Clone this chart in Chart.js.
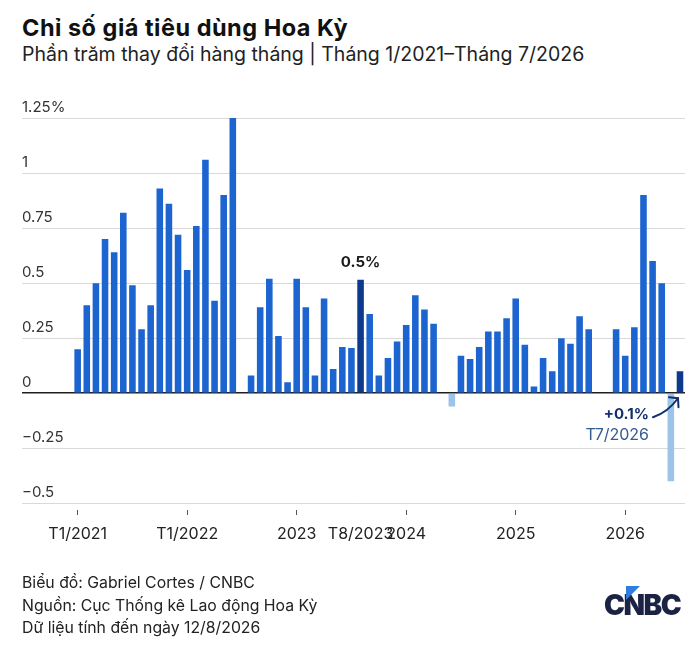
<!DOCTYPE html>
<html lang="vi">
<head>
<meta charset="utf-8">
<title>Chỉ số giá tiêu dùng Hoa Kỳ</title>
<script src="https://cdn.jsdelivr.net/npm/chart.js@4.4.1/dist/chart.umd.min.js"></script>
<style>
  html, body { margin: 0; padding: 0; background: #fff; }
  body { width: 700px; height: 656px; position: relative; overflow: hidden; font-family: Inter, "Noto Sans", sans-serif; color: #1a1a1a; }
  #chart { position: absolute; left: 0; top: 0; }
  .title { position: absolute; left: 22px; top: 14px; font-size: 23.5px; line-height: 1.21; font-weight: 700; color: #111; letter-spacing: 0.5px; }
  .subtitle { position: absolute; left: 22px; top: 43px; font-size: 19.5px; line-height: 1.21; color: #222; }
  .footer { position: absolute; left: 22px; top: 572px; font-size: 15.8px; line-height: 22.5px; color: #222; }
  .logo { position: absolute; left: 604px; top: 588px; font-size: 28px; font-weight: 900; color: #1b2344; letter-spacing: -1.5px; }
  .logo span { position: relative; }
  .logo .tri { position: absolute; left: 22px; top: -2px; width: 0; height: 0; border-left: 14px solid #2f7de1; border-bottom: 14px solid transparent; }
</style>
</head>
<body>
<div class="title">Chỉ số giá tiêu dùng Hoa Kỳ</div>
<div class="subtitle">Phần trăm thay đổi hàng tháng | Tháng 1/2021–Tháng 7/2026</div>
<canvas id="chart" width="700" height="656"></canvas>
<div class="footer">
  Biểu đồ: Gabriel Cortes / CNBC<br>
  Nguồn: Cục Thống kê Lao động Hoa Kỳ<br>
  Dữ liệu tính đến ngày 12/8/2026
</div>
<div class="logo"><span class="tri"></span>CNBC</div>

<script>
// === dữ liệu: CPI thay đổi theo tháng (%) ===
const months = [
  'T1/2021', 'T2/2021', 'T3/2021', 'T4/2021', 'T5/2021', 'T6/2021', 'T7/2021', 'T8/2021', 'T9/2021', 'T10/2021', 'T11/2021', 'T12/2021',
  'T1/2022', 'T2/2022', 'T3/2022', 'T4/2022', 'T5/2022', 'T6/2022', 'T7/2022', 'T8/2022', 'T9/2022', 'T10/2022', 'T11/2022', 'T12/2022',
  'T1/2023', 'T2/2023', 'T3/2023', 'T4/2023', 'T5/2023', 'T6/2023', 'T7/2023', 'T8/2023', 'T9/2023', 'T10/2023', 'T11/2023', 'T12/2023',
  'T1/2024', 'T2/2024', 'T3/2024', 'T4/2024', 'T5/2024', 'T6/2024', 'T7/2024', 'T8/2024', 'T9/2024', 'T10/2024', 'T11/2024', 'T12/2024',
  'T1/2025', 'T2/2025', 'T3/2025', 'T4/2025', 'T5/2025', 'T6/2025', 'T7/2025', 'T8/2025', 'T9/2025', 'T10/2025', 'T11/2025', 'T12/2025',
  'T1/2026', 'T2/2026', 'T3/2026', 'T4/2026', 'T5/2026', 'T6/2026', 'T7/2026',
];

const cpiChange = [
  0.20, 0.40, 0.50, 0.70, 0.64, 0.82, 0.49, 0.29, 0.40, 0.93, 0.86, 0.72,
  0.56, 0.76, 1.06, 0.42, 0.90, 1.25, 0.00, 0.08, 0.39, 0.52, 0.26, 0.05,
  0.52, 0.39, 0.08, 0.43, 0.11, 0.21, 0.205, 0.515, 0.36, 0.08, 0.16, 0.235,
  0.31, 0.445, 0.38, 0.315, 0.00, -0.06, 0.17, 0.155, 0.21, 0.28, 0.28, 0.34,
  0.43, 0.22, 0.03, 0.16, 0.10, 0.25, 0.225, 0.35, 0.29, null, null, 0.29,
  0.17, 0.30, 0.90, 0.60, 0.50, -0.40, 0.10,
];

// tháng được tô đậm
const highlighted = ['T8/2023', 'T7/2026'];

// nhãn trục
const xTickMonths = ['T1/2021', 'T1/2022', 'T1/2023', 'T8/2023', 'T1/2024', 'T1/2025', 'T1/2026'];
const xTickLabels = ['T1/2021', 'T1/2022', '2023', 'T8/2023', '2024', '2025', '2026'];
const yTickValues = [-0.5, -0.25, 0, 0.25, 0.5, 0.75, 1, 1.25];
const yTickLabels = ['−0.5', '−0.25', '0', '0.25', '0.5', '0.75', '1', '1.25%'];

const BLUE = '#1c64d0';
const NAVY = '#0e3a8e';
const LIGHT = '#9cc4e9';
const FONT = 'Inter, "Noto Sans", sans-serif';

const xTickIdx = xTickMonths.map(m => months.indexOf(m));

// chú thích: nhãn 0.5% và +0.1% / mũi tên
const notesPlugin = {
  id: 'notes',
  afterDatasetsDraw(chart) {
    const { ctx, scales: { x, y } } = chart;
    ctx.save();

    const iAug = months.indexOf(highlighted[0]);
    ctx.font = '700 15px ' + FONT;
    ctx.fillStyle = '#1a1a1a';
    ctx.textAlign = 'center';
    ctx.textBaseline = 'middle';
    ctx.fillText('0.5%', x.getPixelForValue(iAug), y.getPixelForValue(cpiChange[iAug]) - 17);

    const iLast = months.indexOf(highlighted[1]);
    const px = x.getPixelForValue(iLast);
    const py = y.getPixelForValue(0);
    ctx.textAlign = 'right';
    ctx.font = '700 15px ' + FONT;
    ctx.fillStyle = '#12306e';
    ctx.fillText('+0.1%', px - 31, py + 21);
    ctx.font = '400 16px ' + FONT;
    ctx.fillStyle = '#355a94';
    ctx.fillText('T7/2026', px - 31, py + 42);

    // mũi tên cong
    const sx = px - 27, sy = py + 24;
    const ex = px - 2, ey = py + 5;
    ctx.strokeStyle = '#12306e';
    ctx.lineWidth = 2;
    ctx.lineCap = 'round';
    ctx.beginPath();
    ctx.moveTo(sx, sy);
    ctx.quadraticCurveTo(px - 12, py + 19, ex, ey);
    ctx.stroke();
    ctx.beginPath();
    ctx.moveTo(ex - 9, ey - 1);
    ctx.lineTo(ex, ey);
    ctx.lineTo(ex + 0.5, ey + 9);
    ctx.stroke();

    ctx.restore();
  },
};

new Chart(document.getElementById('chart'), {
  type: 'bar',
  data: {
    datasets: [{
      data: cpiChange.map((v, i) => ({ x: i, y: v })),
      backgroundColor(c) {
        const v = c.raw && c.raw.y;
        if (highlighted.includes(months[c.dataIndex])) return NAVY;
        return v < 0 ? LIGHT : BLUE;
      },
      barPercentage: 0.72,
      categoryPercentage: 1,
    }],
  },
  options: {
    responsive: false,
    animation: false,
    layout: { padding: { left: 22, right: 15, top: 118, bottom: 103.5 } },
    plugins: { legend: { display: false }, tooltip: { enabled: false } },
    scales: {
      x: {
        type: 'linear',
        offset: false,
        min: -6.1,
        max: 66.55,
        afterBuildTicks(scale) {
          scale.ticks = xTickIdx.map(v => ({ value: v }));
        },
        grid: {
          offset: false,
          drawOnChartArea: false,
          tickLength: 12,
          tickBorderDash: [0, 7, 5, 100],
          color: c => (c.tick && c.tick.value === months.indexOf('T8/2023')) ? 'rgba(0,0,0,0)' : '#555',
        },
        border: { display: false },
        ticks: {
          autoSkip: false,
          maxRotation: 0,
          padding: 9,
          color: '#222',
          font: { family: FONT, size: 16 },
          callback: v => xTickLabels[xTickIdx.indexOf(v)],
        },
      },
      y: {
        min: -0.5,
        max: 1.25,
        afterBuildTicks(scale) {
          scale.ticks = yTickValues.map(v => ({ value: v }));
        },
        grid: {
          drawTicks: false,
          color: c => c.tick.value === 0 ? '#1f1f1f' : '#d9d9d9',
          lineWidth: c => c.tick.value === 0 ? 1.6 : 1,
        },
        border: { display: false },
        ticks: {
          mirror: true,
          padding: 0,
          labelOffset: -11,
          color: '#333',
          font: { family: FONT, size: 15 },
          callback: v => yTickLabels[yTickValues.indexOf(v)],
        },
      },
    },
  },
  plugins: [notesPlugin],
});
</script>
</body>
</html>
